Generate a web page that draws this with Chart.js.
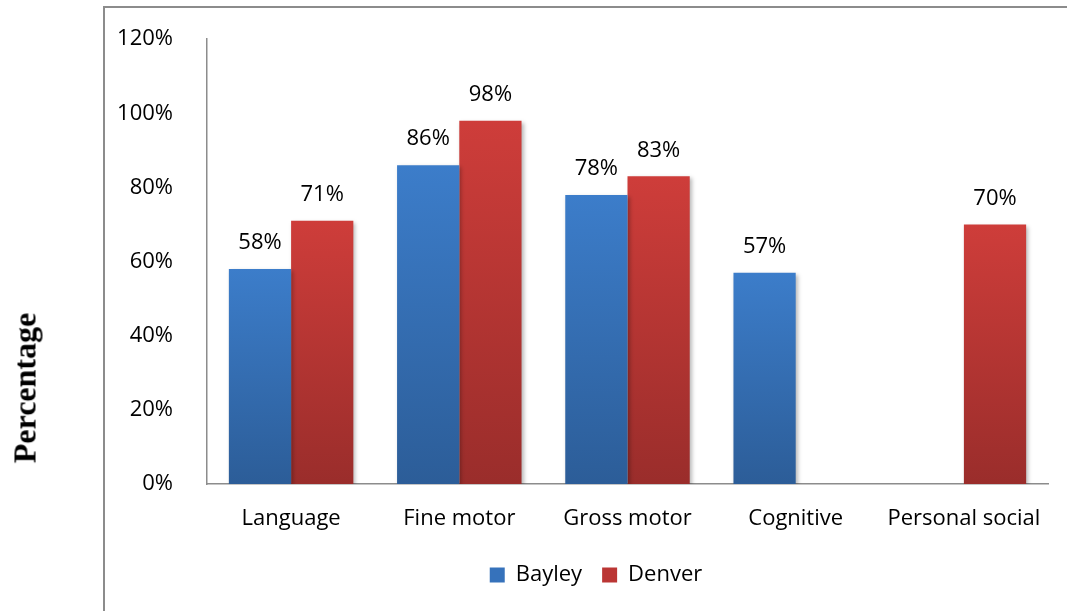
<!DOCTYPE html>
<html>
<head>
<meta charset="utf-8">
<script src="https://cdn.jsdelivr.net/npm/chart.js@4/dist/chart.umd.min.js"></script>
<style>
  html, body { margin: 0; padding: 0; background: #fff; }
  #wrap { position: relative; width: 1067px; height: 611px; overflow: hidden; }
  #frame { position: absolute; left: 103px; top: 6px; width: 1200px; height: 800px;
           border-left: 2px solid #8c8c8c; border-top: 2px solid #8c8c8c; box-sizing: border-box; }
  #ytitle { position: absolute; left: 25px; top: 388px; transform: translate(-50%, -50%) rotate(-90deg);
            font-family: "Liberation Serif", "Times New Roman", serif; font-weight: bold; font-size: 32px;
            color: #000; white-space: nowrap; }
  canvas { position: absolute; left: 0; top: 0; }
</style>
</head>
<body>
<div id="wrap">
  <div id="frame"></div>
  <canvas id="c" width="1067" height="611"></canvas>
  <div id="ytitle">Percentage</div>
</div>
<script>
const categories = ["Language", "Fine motor", "Gross motor", "Cognitive", "Personal social"];
const bayley = [58, 86, 78, 57, null];
const denver = [71, 98, 83, null, 70];
const yTicks = [0, 20, 40, 60, 80, 100, 120];

const FONT = '"Open Sans", sans-serif';
const FS = 22;

function barGrad(ctx, top, bottom) {
  const chart = ctx.chart;
  if (ctx.type !== 'data' || ctx.raw == null || !chart.chartArea || !chart.scales.y) return top;
  const y0 = chart.scales.y.getPixelForValue(ctx.raw);
  const y1 = chart.scales.y.getPixelForValue(0);
  if (!isFinite(y0) || !isFinite(y1) || y0 === y1) return top;
  const g = chart.ctx.createLinearGradient(0, y0, 0, y1);
  g.addColorStop(0, top);
  g.addColorStop(1, bottom);
  return g;
}

const decorPlugin = {
  id: 'barDecor',
  afterLayout(chart) {
    const lg = chart.legend;
    if (lg) { lg.left = 144; lg.right = 1048; lg.width = lg.right - lg.left; }
  },
  beforeDatasetsDraw(chart) {
    const c = chart.ctx;
    c.save();
    c.shadowColor = 'rgba(0,0,0,0.28)';
    c.shadowBlur = 4;
    c.shadowOffsetX = 2;
    c.shadowOffsetY = 2;
  },
  afterDatasetsDraw(chart) {
    const c = chart.ctx;
    c.restore();
    c.save();
    c.font = FS + 'px ' + FONT;
    c.fillStyle = '#000';
    c.textAlign = 'center';
    c.textBaseline = 'middle';
    chart.data.datasets.forEach((ds, i) => {
      const meta = chart.getDatasetMeta(i);
      meta.data.forEach((bar, j) => {
        const v = ds.data[j];
        if (v == null) return;
        c.fillText(v + '%', bar.x, bar.y - 26);
      });
    });
    c.restore();
  }
};

new Chart(document.getElementById('c'), {
  type: 'bar',
  data: {
    labels: categories,
    datasets: [
      { label: 'Bayley', data: bayley,
        backgroundColor: ctx => barGrad(ctx, '#3c7dca', '#2c5d98'),
        legendColor: '#3672bb' },
      { label: 'Denver', data: denver,
        backgroundColor: ctx => barGrad(ctx, '#ce3d3a', '#9a2d2b'),
        legendColor: '#bb3634' }
    ]
  },
  options: {
    responsive: false,
    animation: false,
    devicePixelRatio: 1,
    layout: { padding: { left: 0, right: 19, top: 37, bottom: 15 } },
    datasets: { bar: { categoryPercentage: 0.74, barPercentage: 1.0, borderWidth: 0 } },
    scales: {
      x: {
        grid: { display: false },
        border: { display: true, color: '#8c8c8c', width: 1.5 },
        ticks: { font: { family: FONT, size: FS }, color: '#000', padding: 14, maxRotation: 0 },
        afterFit(scale) { scale.height = 60; }
      },
      y: {
        min: 0, max: 120,
        grid: { display: false },
        border: { display: true, color: '#8c8c8c', width: 1.5 },
        afterBuildTicks(scale) { scale.ticks = yTicks.map(v => ({ value: v })); },
        ticks: { font: { family: FONT, size: FS }, color: '#000', padding: 26,
                 callback: v => v + '%' },
        afterFit(scale) { scale.width = 207; }
      }
    },
    plugins: {
      tooltip: { enabled: false },
      legend: {
        position: 'bottom',
        labels: {
          font: { family: FONT, size: FS }, color: '#000',
          boxWidth: 15, boxHeight: 15, padding: 20,
          generateLabels(chart) {
            return chart.data.datasets.map((ds, i) => ({
              text: ds.label, fillStyle: ds.legendColor, strokeStyle: ds.legendColor,
              lineWidth: 0, hidden: false, datasetIndex: i
            }));
          }
        }
      }
    }
  },
  plugins: [decorPlugin]
});
</script>
</body>
</html>
